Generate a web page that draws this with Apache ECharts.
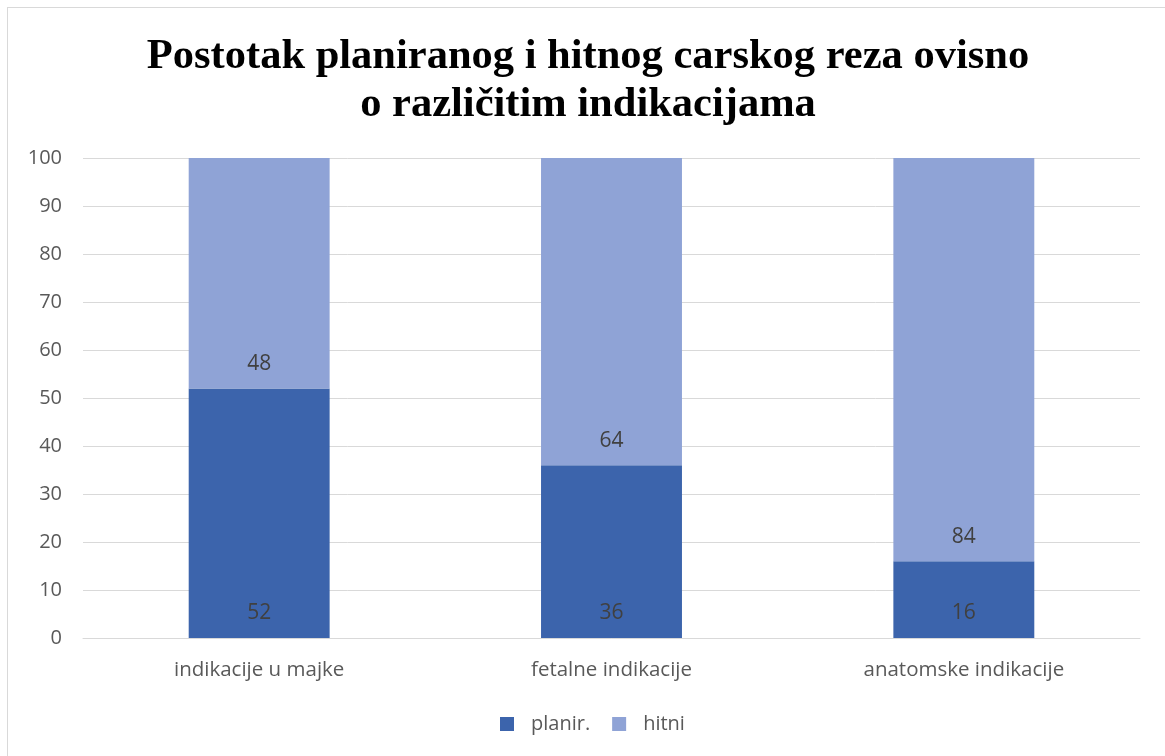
<!DOCTYPE html>
<html>
<head>
<meta charset="utf-8">
<script src="https://cdn.jsdelivr.net/npm/echarts@6/dist/echarts.min.js"></script>
<style>
html,body{margin:0;padding:0;background:#fff;}
#frame{position:absolute;left:7px;top:7px;width:1158px;height:749px;border-left:1px solid #d9d9d9;border-top:1px solid #d9d9d9;box-sizing:border-box;}
#c{position:absolute;left:0;top:0;width:1165px;height:756px;}
</style>
</head>
<body>
<div id="frame"></div>
<div id="c"></div>
<script>
const categories = ['indikacije u majke', 'fetalne indikacije', 'anatomske indikacije'];
const planir = [52, 36, 16];
const hitni = [48, 64, 84];
const yTicks = {min: 0, max: 100, interval: 10};
const titleText = 'Postotak planiranog i hitnog carskog reza ovisno\no različitim indikacijama';

const chart = echarts.init(document.getElementById('c'));
const labelFont = '"Open Sans", Lato, sans-serif';
chart.setOption({
  animation: false,
  title: {
    text: titleText,
    left: 583,
    textAlign: 'center',
    top: 28,
    textStyle: {fontFamily: '"Liberation Serif", "Times New Roman", serif', fontWeight: 'bold', fontSize: 42.5, color: '#000', lineHeight: 48}
  },
  grid: {left: 83, right: 25, top: 158, bottom: 118},
  legend: {
    bottom: 17,
    left: 495,
    itemWidth: 14, itemHeight: 14, itemGap: 22,
    icon: 'rect',
    textStyle: {fontFamily: labelFont, fontSize: 20, color: '#595959', padding: [0, 0, 0, 12]},
    data: ['planir.', 'hitni']
  },
  xAxis: {
    type: 'category',
    data: categories,
    axisLine: {show: true, lineStyle: {color: '#d9d9d9', width: 1}},
    axisTick: {show: false},
    axisLabel: {fontFamily: labelFont, fontSize: 20.5, color: '#595959', margin: 22}
  },
  yAxis: {
    type: 'value',
    min: yTicks.min, max: yTicks.max, interval: yTicks.interval,
    axisLine: {show: false},
    axisTick: {show: false},
    splitLine: {lineStyle: {color: '#d9d9d9', width: 1}},
    axisLabel: {fontFamily: labelFont, fontSize: 20, color: '#595959', margin: 21}
  },
  series: [
    {
      name: 'planir.', type: 'bar', stack: 's', data: planir, barWidth: '40%',
      itemStyle: {color: '#3C64AC'},
      label: {show: true, position: 'insideBottom', distance: 14, fontFamily: labelFont, fontSize: 21, color: '#404040'}
    },
    {
      name: 'hitni', type: 'bar', stack: 's', data: hitni, barWidth: '40%',
      itemStyle: {color: '#8FA3D6'},
      label: {show: true, position: 'insideBottom', distance: 14, fontFamily: labelFont, fontSize: 21, color: '#404040'}
    }
  ]
});
</script>
</body>
</html>
